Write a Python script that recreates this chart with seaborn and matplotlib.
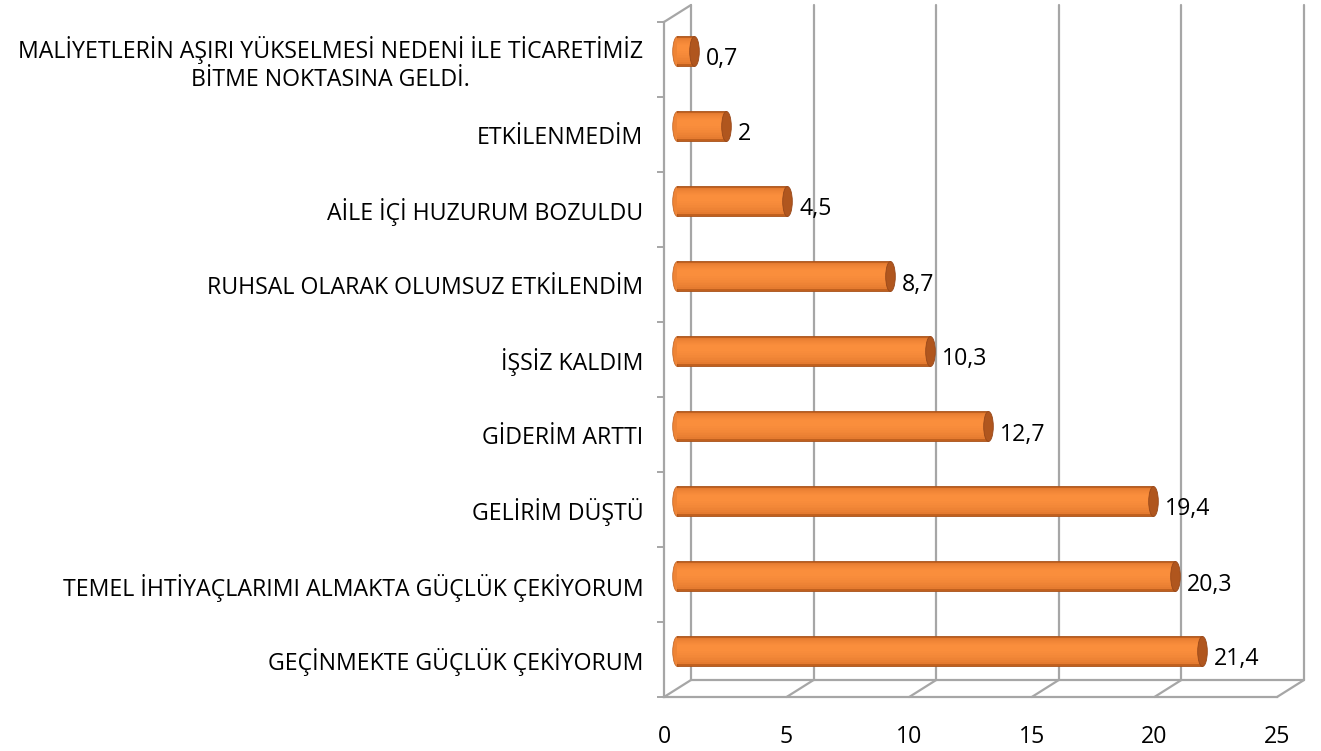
import numpy as np
import pandas as pd
import seaborn as sns
import matplotlib.pyplot as plt
from matplotlib.path import Path
from matplotlib.colors import to_rgb
from matplotlib.transforms import ScaledTranslation, IdentityTransform

# veriler
kategoriler = [
    'MALİYETLERİN AŞIRI YÜKSELMESİ NEDENİ İLE TİCARETİMİZ\nBİTME NOKTASINA GELDİ.',
    'ETKİLENMEDİM',
    'AİLE İÇİ HUZURUM BOZULDU',
    'RUHSAL OLARAK OLUMSUZ ETKİLENDİM',
    'İŞSİZ KALDIM',
    'GİDERİM ARTTI',
    'GELİRİM DÜŞTÜ',
    'TEMEL İHTİYAÇLARIMI ALMAKTA GÜÇLÜK ÇEKİYORUM',
    'GEÇİNMEKTE GÜÇLÜK ÇEKİYORUM',
]
yuzdeler = [0.7, 2, 4.5, 8.7, 10.3, 12.7, 19.4, 20.3, 21.4]
x_ticks = [0, 5, 10, 15, 20, 25]

df = pd.DataFrame({'kategori': kategoriler, 'yuzde': yuzdeler})

sns.set_style('white')
plt.rcParams['font.family'] = ['Open Sans', 'DejaVu Sans']
plt.rcParams['text.color'] = 'black'
plt.rcParams['xtick.labelcolor'] = 'black'
plt.rcParams['ytick.labelcolor'] = 'black'

GRI = '#A6A6A6'
KENAR = '#C0601E'
ACIK = '#FA8E3C'
KOYU = '#B0561E'
YAZI = 16.7

fig = plt.figure(figsize=(13.21, 7.51), dpi=100)
ax = fig.add_axes([664 / 1321, 54 / 751, 613 / 1321, 675 / 751])

# 3B derinlik kaymalari (piksel -> inç)
arka = ax.transData + ScaledTranslation(0.27, 0.17, fig.dpi_scale_trans)
orta = ax.transData + ScaledTranslation(0.13, 0.085, fig.dpi_scale_trans)

sns.barplot(data=df, x='yuzde', y='kategori', orient='h', color=KENAR,
            width=0.4, errorbar=None, saturation=1, ax=ax,
            edgecolor='#A9521A', linewidth=0.6, zorder=3)
for p in ax.patches:
    p.set_transform(orta)

ypos = np.arange(len(kategoriler))
# silindir golgelendirmesi: kenardan ortaya
c0, c1 = np.array(to_rgb('#D46C26')), np.array(to_rgb(ACIK))
katman = 8
for k in range(1, katman + 1):
    f = k / katman
    h = 0.39 * (1 - 0.8 * f)
    renk = c0 + (c1 - c0) * f ** 0.4
    ax.barh(ypos - 0.035 * f, yuzdeler, height=h, color=renk, linewidth=0,
            transform=orta, zorder=3 + f)

# silindir uclari
uc = Path(Path.unit_circle().vertices * [0.32, 1.0], Path.unit_circle().codes)
ax.scatter([0] * len(yuzdeler), ypos, marker=uc, s=467, color='#EE8436',
           edgecolors='#C0601E', linewidths=0.5, transform=orta, zorder=2)
ax.scatter(yuzdeler, ypos, marker=uc, s=467, color=KOYU,
           edgecolors='#98481A', linewidths=0.6, transform=orta, zorder=5)

# deger etiketleri
etiket_tr = ax.transData + ScaledTranslation(0.25, 0.0, fig.dpi_scale_trans)
for i, v in enumerate(yuzdeler):
    ax.text(v, i, f'{v:g}'.replace('.', ','), transform=etiket_tr,
            va='center', ha='left', fontsize=YAZI, color='black')

ax.set_xlim(0, 25)
ax.set_ylim(8.5, -0.5)

# arka duvar izgara cizgileri
for t in x_ticks:
    ax.plot([t, t], [8.5, -0.5], color=GRI, lw=1.6, transform=arka,
            clip_on=False, zorder=1)
ax.plot([0, 25], [8.5, 8.5], color=GRI, lw=1.6, transform=arka,
        clip_on=False, zorder=1)

# on kose -> arka kose caprazlari
for x, y in [(t, 8.5) for t in x_ticks] + [(0, -0.5)]:
    px, py = ax.transData.transform((x, y))
    ax.plot([px, px + 27], [py, py + 17], color=GRI, lw=1.6,
            transform=IdentityTransform(), clip_on=False, zorder=1)

for s in ['top', 'right']:
    ax.spines[s].set_visible(False)
for s in ['left', 'bottom']:
    ax.spines[s].set_color(GRI)
    ax.spines[s].set_linewidth(1.6)

ax.set_xticks(x_ticks)
ax.set_yticks(np.arange(-0.5, 9, 1), minor=True)
ax.tick_params(axis='x', length=5, width=1.4, color=GRI, pad=15,
               labelsize=YAZI, labelcolor='black')
ax.tick_params(axis='y', which='major', length=0, pad=15, labelsize=YAZI,
               labelcolor='black')
ax.tick_params(axis='y', which='minor', length=5, width=1.4, color=GRI,
               left=True)
for lab in ax.get_yticklabels():
    lab.set_multialignment('center')
ax.set_xlabel('')
ax.set_ylabel('')
ax.grid(False)

fig.savefig('out.png', dpi=100)
